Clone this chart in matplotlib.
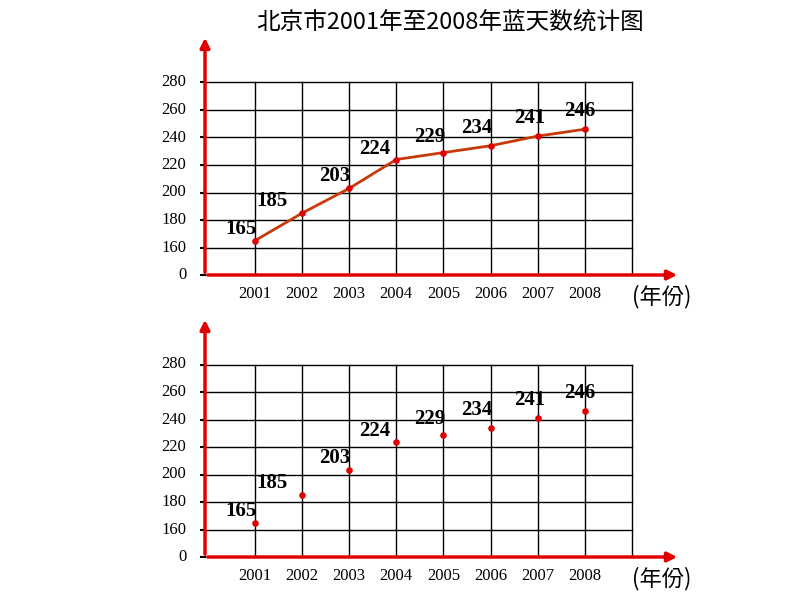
import matplotlib
matplotlib.use("Agg")
import matplotlib.pyplot as plt

years = [2001, 2002, 2003, 2004, 2005, 2006, 2007, 2008]
days = [165, 185, 203, 224, 229, 234, 241, 246]
y_labels = ["0", "160", "180", "200", "220", "240", "260", "280"]
title = "北京市2001年至2008年蓝天数统计图"

# label offsets in pixels (dx, dy) from each point
offsets = [(-14, 2), (-30, 2), (-14, 2), (-22, 0), (-14, 6), (-14, 8), (-8, 8), (-5, 8)]

cjk = ["Noto Sans CJK SC", "Noto Sans CJK JP", "Noto Sans CJK TC",
       "Noto Sans CJK KR", "DejaVu Sans"]
plt.rcParams["font.sans-serif"] = cjk

W, H = 794, 596
fig = plt.figure(figsize=(W / 100, H / 100), dpi=100)
serif = "Liberation Serif"
red = "#e00000"
line_c = "#c83a0a"

px_year = 47.1
px_row = 27.5


def pos(v):
    return 1 + (v - 160) / 20.0


def draw_chart(zero_y, with_line):
    left, right, top = 205, 680, zero_y - 240
    ax = fig.add_axes([left / W, 1 - zero_y / H, (right - left) / W, (zero_y - top) / H])
    x0 = 2001 - (255 - left) / px_year
    ax.set_xlim(x0, x0 + (right - left) / px_year)
    ax.set_ylim(0, (zero_y - top) / px_row)
    ax.axis("off")
    gtop = 7
    gright = 2009
    for i in range(1, 8):
        ax.plot([x0, gright], [i, i], color="black", lw=1)
    for yr in range(2001, 2010):
        ax.plot([yr, yr], [0, gtop], color="black", lw=1)
    for i, lab in enumerate(y_labels):
        ax.plot([x0 - 0.08, x0], [i, i], color="black", lw=1.5, clip_on=False)
        ax.text(x0 - 0.4, i, lab, ha="right", va="center", fontsize=12,
                family=serif, clip_on=False)
    for yr in years:
        ax.text(yr, -0.7, str(yr), ha="center", va="center", fontsize=12, family=serif)
    ax.annotate("", xy=(x0, (zero_y - top) / px_row), xytext=(x0, 0),
                arrowprops=dict(arrowstyle="-|>", color=red, lw=2.5, mutation_scale=14),
                annotation_clip=False)
    ax.annotate("", xy=(x0 + (right - left) / px_year, 0), xytext=(x0, 0),
                arrowprops=dict(arrowstyle="-|>", color=red, lw=2.5, mutation_scale=14),
                annotation_clip=False)
    ys = [pos(v) for v in days]
    if with_line:
        ax.plot(years, ys, color=line_c, lw=2, zorder=3)
    ax.scatter(years, ys, color=red, s=14, zorder=4)
    for yr, v, y, (dx, dy) in zip(years, days, ys, offsets):
        ax.annotate(str(v), (yr, y), xytext=(dx, dy), textcoords="offset pixels",
                    ha="center", va="bottom", fontsize=15, fontweight="bold", family=serif)
    fig.text(632 / W, 1 - (zero_y + 22) / H, "(年份)", fontsize=16,
             family="sans-serif", ha="left", va="center")


draw_chart(275, True)
draw_chart(557, False)

fig.text(450 / W, 1 - 22 / H, title, fontsize=17, family="sans-serif",
         ha="center", va="center")

fig.savefig("out.png", dpi=100)
